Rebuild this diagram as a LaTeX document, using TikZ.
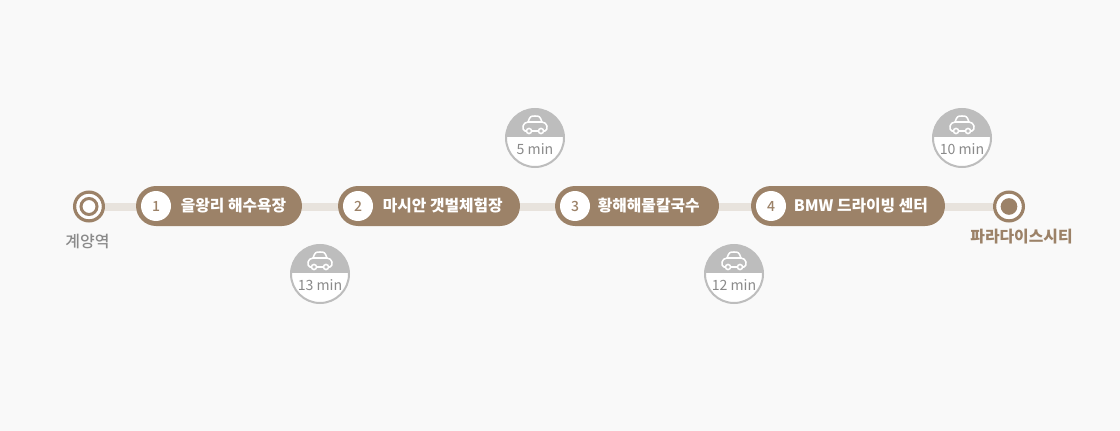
\documentclass[tikz,border=0pt]{standalone}
\usepackage{fontspec}
\setmainfont{Noto Sans CJK KR}
\newfontfamily\medf{Noto Sans CJK KR Medium}
\newfontfamily\lightf{Noto Sans CJK KR}
\usepackage{tikz}
\usetikzlibrary{positioning,calc,shapes.misc}
\definecolor{bgc}{HTML}{F9F9F9}
\definecolor{brn}{HTML}{9C8268}
\definecolor{trk}{HTML}{E8E3DD}
\definecolor{gry}{HTML}{BDBDBD}
\definecolor{txtg}{HTML}{8A8A8A}

\begin{document}
\begin{tikzpicture}[x=0.75pt,y=-0.75pt,
	stop/.style={circle,draw=brn,line width=2.4pt,fill=white,inner sep=0pt,minimum size=21.6pt},
	pill/.style={rounded rectangle,fill=brn,inner sep=0pt,outer sep=0pt,minimum height=30pt},
	num/.style={circle,fill=white,text=brn,inner sep=0pt,minimum size=22.5pt,font=\fontsize{10.5pt}{12pt}\medf},
	ttl/.style={text=white,inner sep=0pt,font=\fontsize{11.85pt}{14pt}\medf\bfseries},
	track/.style={trk,line width=6pt},
	badge/.style={circle,draw=gry,line width=1.5pt,fill=white,inner sep=0pt,minimum size=43.5pt,
		path picture={\fill[gry] (path picture bounding box.north west) rectangle ($(path picture bounding box.east)+(0,-1)$);}},
	mins/.style={text=txtg,inner sep=0pt,font=\fontsize{10.6pt}{12pt}\lightf},
	car/.pic={
		\draw[white,line width=1.15pt,line join=round,line cap=round]
			(-8,7) -- (-10,7) .. controls (-12,7) and (-12,4) .. (-12,2)
			.. controls (-12,-1) and (-9,-1) .. (-7,-2)
			.. controls (-5,-8) and (-4,-8) .. (0,-8)
			.. controls (4,-8) and (5,-8) .. (7,-2)
			.. controls (9,-1) and (12,-1) .. (12,2)
			.. controls (12,4) and (12,7) .. (10,7) -- (8,7)
			(-3.5,7) -- (3.5,7) (-7,-2) -- (7,-2);
		\draw[white,fill=gry,line width=1.15pt] (-6,7) circle (1.9pt) (6,7) circle (1.9pt);
	}]
\path[fill=bgc] (0,0) rectangle (1120,431);

% stops and pills
\path   (89,206.5)   node (start) [stop] {}
        (1009,206.5) node (end)   [stop] {}
        (219,206)    node (pa) [pill,minimum width=124.5pt] {}
        (429,206)    node (pb) [pill,minimum width=136.5pt] {}
        (637,206)    node (pc) [pill,minimum width=123pt] {}
        (848,206)    node (pd) [pill,minimum width=145.5pt] {};
\node (startin) at (start) [circle,draw=brn,line width=2.25pt,inner sep=0pt,minimum size=12pt] {};
\node (endin) at (end) [circle,fill=brn,inner sep=0pt,minimum size=12.5pt] {};

\draw[track] (start) -- (pa.west |- start);
\draw[track] (pa.east |- start) -- (pb.west |- start);
\draw[track] (pb.east |- start) -- (pc.west |- start);
\draw[track] (pc.east |- start) -- (pd.west |- start);
\draw[track] (pd.east |- start) -- (end);

% numbers and titles
\node (na) at ($(pa.west)+(20,0)$) [num] {1};
\node (nb) at ($(pb.west)+(20,0)$) [num] {2};
\node (nc) at ($(pc.west)+(20,0)$) [num] {3};
\node (nd) at ($(pd.west)+(20,0)$) [num] {4};
\node (ta) [ttl,right=7pt of na] {을왕리 해수욕장};
\node (tb) [ttl,right=7pt of nb] {마시안 갯벌체험장};
\node (tc) [ttl,right=5.5pt of nc] {황해해물칼국수};
\node (td) [ttl,right=5.5pt of nd] {BMW 드라이빙 센터};

\node (lstart) at (87.5,241.5) [text=txtg,inner sep=0pt,font=\fontsize{12pt}{14pt}\medf] {계양역};
\node (lend) at (1021.5,237) [text=brn,inner sep=0pt,font=\fontsize{11.9pt}{14pt}\medf\bfseries] {파라다이스시티};

% travel times
\path   (320,274) node (ba) [badge] {}
        (535,138) node (bb) [badge] {}
        (734,274) node (bc) [badge] {}
        (962,138) node (bd) [badge] {};
\pic at ($(ba)+(0,-14)$) {car};
\pic at ($(bb)+(0,-14)$) {car};
\pic at ($(bc)+(0,-14)$) {car};
\pic at ($(bd)+(0,-14)$) {car};
\node at ($(ba)+(0,11)$) [mins] {13 min};
\node at ($(bb)+(0,11)$) [mins] {5 min};
\node at ($(bc)+(0,11)$) [mins] {12 min};
\node at ($(bd)+(0,11)$) [mins] {10 min};
\end{tikzpicture}
\end{document}
